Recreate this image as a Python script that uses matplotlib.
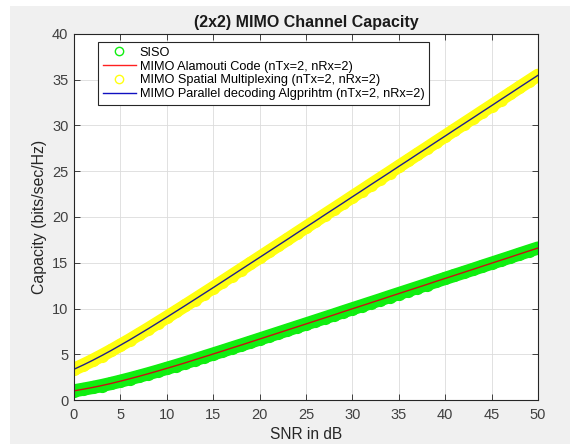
### (2x2) MIMO channel capacity vs SNR

import matplotlib
matplotlib.use("Agg")
import matplotlib.pyplot as plt
from matplotlib.patches import Rectangle
import numpy as np

# SNR axis in dB
snr_db = list(range(0, 51))

# capacity values (bits/sec/Hz)
siso = [1.00, 1.18, 1.37, 1.58, 1.81, 2.06, 2.32, 2.59, 2.87, 3.16,
        3.46, 3.76, 4.07, 4.39, 4.71, 5.03, 5.35, 5.68, 6.00, 6.33,
        6.66, 6.99, 7.32, 7.65, 7.98, 8.31, 8.64, 8.97, 9.30, 9.64,
        9.97, 10.30, 10.63, 10.96, 11.30, 11.63, 11.96, 12.29, 12.62, 12.96,
        13.29, 13.62, 13.95, 14.28, 14.62, 14.95, 15.28, 15.61, 15.95, 16.28,
        16.61]
alamouti = list(siso)
spatial = [3.36, 3.83, 4.33, 4.86, 5.41, 5.99, 6.57, 7.18, 7.79, 8.42,
           9.05, 9.69, 10.33, 10.98, 11.63, 12.28, 12.94, 13.60, 14.26, 14.92,
           15.58, 16.24, 16.90, 17.56, 18.23, 18.89, 19.55, 20.22, 20.88, 21.54,
           22.21, 22.87, 23.54, 24.20, 24.86, 25.53, 26.19, 26.86, 27.52, 28.19,
           28.85, 29.52, 30.18, 30.84, 31.51, 32.17, 32.84, 33.50, 34.17, 34.83,
           35.49]
parallel = list(spatial)

labels = ["SISO",
          "MIMO Alamouti Code (nTx=2, nRx=2)",
          "MIMO Spatial Multiplexing (nTx=2, nRx=2)",
          "MIMO Parallel decoding Algprihtm (nTx=2, nRx=2)"]


def main():
    plt.rcParams['font.family'] = ['Liberation Sans', 'DejaVu Sans']

    fig = plt.figure(figsize=(5.7, 4.44), dpi=100, facecolor='white')
    # matlab style grey window background
    fig.add_artist(Rectangle((10/570, 0), 1, 1 - 6/444, transform=fig.transFigure,
                             facecolor='#f0f0f0', edgecolor='none', zorder=-10))

    ax = fig.add_axes([74/570, 44/444, 464/570, 366/444])
    ax.set_facecolor('white')

    # densely packed circles in the original look like a thick band
    ax.plot(snr_db, siso, '-o', color='#10ee10', lw=9.5, markersize=9.5,
            markeredgewidth=0, solid_capstyle='round', label=labels[0])
    ax.plot(snr_db, alamouti, '-', color='#c81010', lw=1.0, label=labels[1])
    ax.plot(snr_db, spatial, '-o', color='#ffff10', lw=9.5, markersize=9.5,
            markeredgewidth=0, solid_capstyle='round', label=labels[2])
    ax.plot(snr_db, parallel, '-', color='#20208a', lw=1.0, label=labels[3])

    ax.set_xlim(0, 50)
    ax.set_ylim(0, 40)
    ax.set_xticks(np.arange(0, 51, 5))
    ax.set_yticks(np.arange(0, 41, 5))
    ax.grid(True, color='#dcdcdc', lw=0.6)
    ax.set_axisbelow(True)
    ax.tick_params(direction='in', length=4, width=0.6, colors='#262626',
                   labelcolor='#404040', labelsize=10.5, top=True, right=True,
                   labeltop=False, labelright=False)
    ax.tick_params(axis='x', pad=6)
    ax.tick_params(axis='y', pad=4)
    for sp in ax.spines.values():
        sp.set_color('#262626')
        sp.set_linewidth(0.8)

    ax.set_title("(2x2) MIMO Channel Capacity", fontsize=11.5, fontweight='bold',
                 color='#1a1a1a', pad=5)
    ax.set_xlabel("SNR in dB", fontsize=11.2, color='#262626', labelpad=3)
    ax.set_ylabel("Capacity (bits/sec/Hz)", fontsize=11.4, color='#262626', labelpad=4)

    leg = ax.legend(loc='upper left', bbox_to_anchor=(0.052, 0.977), fontsize=9.2,
                    fancybox=False, framealpha=1, edgecolor='#262626',
                    handlelength=2.6, handletextpad=0.3, borderpad=0.35,
                    labelspacing=0.14, borderaxespad=0)
    leg.get_frame().set_linewidth(0.8)
    # legend shows hollow circles like the original
    for h in (leg.legend_handles[0], leg.legend_handles[2]):
        h.set_linestyle('none')
        h.set_markerfacecolor('none')
        h.set_markersize(6)
        h.set_markeredgewidth(1.0)
    leg.legend_handles[1].set_color('#ff2020')
    leg.legend_handles[3].set_color('#1010c0')

    fig.savefig("out.png", dpi=100)


if __name__ == "__main__":
    main()
